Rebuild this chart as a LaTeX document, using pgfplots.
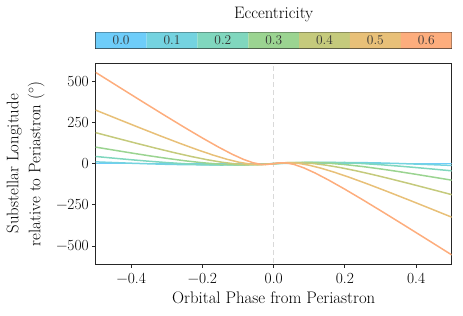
\documentclass[border=0pt]{standalone}
\usepackage{fontspec}
\usepackage{pgfplots}
\pgfplotsset{compat=1.18}
\definecolor{c0}{RGB}{110,205,250}
\definecolor{c1}{RGB}{116,211,224}
\definecolor{c2}{RGB}{128,215,190}
\definecolor{c3}{RGB}{155,212,145}
\definecolor{c4}{RGB}{197,202,124}
\definecolor{c5}{RGB}{232,192,120}
\definecolor{c6}{RGB}{253,173,125}
\begin{document}
\begin{tikzpicture}
\useasboundingbox (-95.7bp,-52bp) rectangle (367.3bp,264bp);
\begin{axis}[
  name=main, at={(0,0)}, anchor=south west,
  scale only axis, width=356bp, height=200.7bp,
  xmin=-0.5, xmax=0.5, ymin=-609.3, ymax=609.3,
  xtick={-0.4,-0.2,0,0.2,0.4},
  xticklabels={−0.4,−0.2,0.0,0.2,0.4},
  ytick={-500,-250,0,250,500},
  yticklabels={−500,−250,0,250,500},
  tick align=outside, major tick length=3.5bp,
  every tick/.style={black!85, line width=0.8bp},
  axis line style={black!85, line width=0.8bp},
  xtick pos=bottom, ytick pos=left,
  ticklabel style={font=\fontsize{15.5}{18}\selectfont},
  xticklabel style={yshift=-2.5bp},
  xlabel={Orbital Phase from Periastron},
  ylabel={Substellar Longitude\\relative to Periastron ($^\circ$)},
  label style={font=\fontsize{16.8}{22}\selectfont},
  xlabel style={at={(axis description cs:0.5,0)}, anchor=base, yshift=-39bp},
  ylabel style={at={(axis description cs:-0.197,0.5)}, anchor=center, align=center},
  clip=true,
]
\addplot[black!15, line width=1.2bp, dash pattern=on 5bp off 3bp] coordinates {(0,-700) (0,700)};
\addplot[c0, line width=1.5bp] coordinates {(-0.5,0) (0.5,0)};
\addplot[c1, line width=1.5bp] coordinates {
(-0.5,10.81)(-0.45,6.61)(-0.4,2.60)(-0.35,-1.02)(-0.3,-3.99)(-0.25,-6.05)(-0.2,-7.00)(-0.15,-6.71)(-0.1,-5.25)(-0.05,-2.88)
(0,0)(0.05,2.88)(0.1,5.25)(0.15,6.71)(0.2,7.00)(0.25,6.05)(0.3,3.99)(0.35,1.02)(0.4,-2.60)(0.45,-6.61)(0.5,-10.81)};
\addplot[c2, line width=1.5bp] coordinates {
(-0.5,43.54)(-0.45,33.42)(-0.4,23.68)(-0.35,14.60)(-0.3,6.42)(-0.25,-0.53)(-0.2,-5.66)(-0.15,-8.26)(-0.1,-7.89)(-0.05,-4.78)
(0,0)(0.05,4.78)(0.1,7.89)(0.15,8.26)(0.2,5.66)(0.25,0.53)(0.3,-6.42)(0.35,-14.60)(0.4,-23.68)(0.45,-33.42)(0.5,-43.54)};
\addplot[c3, line width=1.5bp] coordinates {
(-0.5,100.28)(-0.45,82.53)(-0.4,64.87)(-0.35,47.82)(-0.3,32.02)(-0.25,17.6)(-0.2,5.58)(-0.15,-3.57)(-0.1,-7.74)(-0.05,-5.97)
(0,0)(0.05,5.97)(0.1,7.74)(0.15,3.57)(0.2,-5.58)(0.25,-17.6)(0.3,-32.02)(0.35,-47.82)(0.4,-64.87)(0.45,-82.53)(0.5,-100.28)};
\addplot[c4, line width=1.5bp] coordinates {
(-0.5,188.111)(-0.441856,155.157)(-0.384836,123.223)(-0.329984,93.286)(-0.278201,66.228)(-0.230174,42.803)(-0.186338,23.608)(-0.146841,9.071)(-0.111534,-0.705)(-0.079984,-5.759)(-0.051502,-6.602)(-0.033782,-5.278)(-0.016723,-2.912)
(0,0)(0.016723,2.912)(0.033782,5.278)(0.051502,6.602)(0.079984,5.759)(0.111534,0.705)(0.146841,-9.071)(0.186338,-23.608)(0.230174,-42.803)(0.278201,-66.228)(0.329984,-93.286)(0.384836,-123.223)(0.441856,-155.157)(0.5,-188.111)};
\addplot[c5, line width=1.5bp] coordinates {
(-0.5,324.957)(-0.437737,270.770)(-0.376878,218.202)(-0.31873,168.789)(-0.264417,123.908)(-0.214801,84.718)(-0.170423,52.112)(-0.131467,26.688)(-0.09775,8.719)(-0.06873,-1.902)(-0.043544,-5.816)(-0.028338,-5.347)(-0.013959,-3.136)
(0,0)(0.013959,3.136)(0.028338,5.347)(0.043544,5.816)(0.06873,1.902)(0.09775,-8.719)(0.131467,-26.688)(0.170423,-52.112)(0.214801,-84.718)(0.264417,-123.908)(0.31873,-168.789)(0.376878,-218.202)(0.437737,-270.770)(0.5,-324.957)};
\addplot[c6, line width=1.5bp] coordinates {
(-0.5,553.91)(-0.433618,464.005)(-0.36892,376.77)(-0.307476,294.721)(-0.250634,220.089)(-0.199427,154.703)(-0.154507,99.918)(-0.116094,56.582)(-0.083967,25.036)(-0.057476,5.083)(-0.035587,-4.139)(-0.022895,-5.245)(-0.011196,-3.417)(-0.005566,-1.811)
(0,0)(0.005566,1.811)(0.011196,3.417)(0.022895,5.245)(0.035587,4.139)(0.057476,-5.083)(0.083967,-25.036)(0.116094,-56.582)(0.154507,-99.918)(0.199427,-154.703)(0.250634,-220.089)(0.307476,-294.721)(0.36892,-376.77)(0.433618,-464.005)(0.5,-553.91)};
\end{axis}
\begin{axis}[
  at={(0,215.7bp)}, anchor=south west,
  scale only axis, width=356bp, height=16bp,
  xmin=0, xmax=7, ymin=0, ymax=1,
  xtick=\empty, ytick=\empty,
  axis line style={black!85, line width=0.9bp},
  clip=false,
]
\addplot[draw=none, fill=c0] coordinates {(0,0)(0,1)(1,1)(1,0)} \closedcycle;
\addplot[draw=none, fill=c1] coordinates {(1,0)(1,1)(2,1)(2,0)} \closedcycle;
\addplot[draw=none, fill=c2] coordinates {(2,0)(2,1)(3,1)(3,0)} \closedcycle;
\addplot[draw=none, fill=c3] coordinates {(3,0)(3,1)(4,1)(4,0)} \closedcycle;
\addplot[draw=none, fill=c4] coordinates {(4,0)(4,1)(5,1)(5,0)} \closedcycle;
\addplot[draw=none, fill=c5] coordinates {(5,0)(5,1)(6,1)(6,0)} \closedcycle;
\addplot[draw=none, fill=c6] coordinates {(6,0)(6,1)(7,1)(7,0)} \closedcycle;
\node[font=\fontsize{13.5}{16}\selectfont, black!80] at (axis cs:0.5,0.5) {0.0};
\node[font=\fontsize{13.5}{16}\selectfont, black!80] at (axis cs:1.5,0.5) {0.1};
\node[font=\fontsize{13.5}{16}\selectfont, black!80] at (axis cs:2.5,0.5) {0.2};
\node[font=\fontsize{13.5}{16}\selectfont, black!80] at (axis cs:3.5,0.5) {0.3};
\node[font=\fontsize{13.5}{16}\selectfont, black!80] at (axis cs:4.5,0.5) {0.4};
\node[font=\fontsize{13.5}{16}\selectfont, black!80] at (axis cs:5.5,0.5) {0.5};
\node[font=\fontsize{13.5}{16}\selectfont, black!80] at (axis cs:6.5,0.5) {0.6};
\node[font=\fontsize{16.7}{18}\selectfont, anchor=base, inner sep=0pt] at (axis description cs:0.5,1) [yshift=14bp] {Eccentricity};
\end{axis}
\end{tikzpicture}
\end{document}
